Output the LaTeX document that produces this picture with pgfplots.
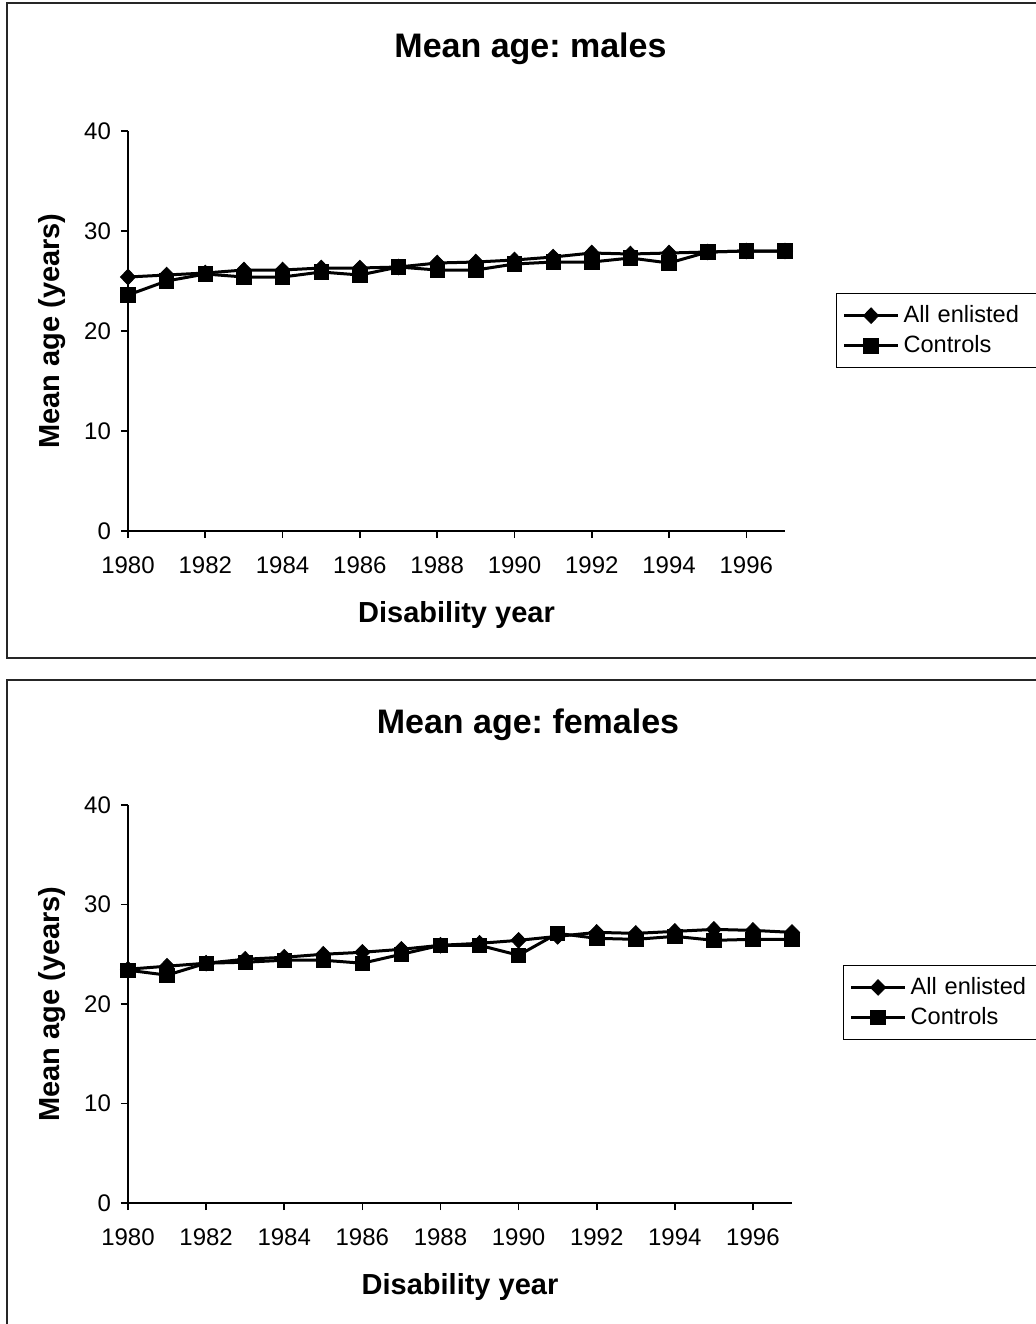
\documentclass[border=0pt]{standalone}
\usepackage{pgfplots}
\pgfplotsset{compat=1.18}
\usepackage{fontspec}
\setmainfont{Liberation Sans}
\frenchspacing

\pgfplotstableread{
year  all   ctrl
1980  25.4  23.6
1981  25.6  25.0
1982  25.8  25.7
1983  26.1  25.4
1984  26.1  25.4
1985  26.3  25.9
1986  26.3  25.6
1987  26.4  26.4
1988  26.8  26.1
1989  26.9  26.1
1990  27.1  26.7
1991  27.4  26.9
1992  27.8  26.9
1993  27.7  27.3
1994  27.8  26.8
1995  27.9  27.9
1996  28.0  28.0
1997  28.0  28.0
}\males

\pgfplotstableread{
year  all   ctrl
1980  23.5  23.4
1981  23.8  22.9
1982  24.1  24.1
1983  24.5  24.2
1984  24.7  24.4
1985  25.0  24.4
1986  25.2  24.1
1987  25.5  25.0
1988  25.9  25.9
1989  26.1  25.9
1990  26.4  24.9
1991  26.8  27.1
1992  27.2  26.6
1993  27.1  26.5
1994  27.3  26.8
1995  27.5  26.4
1996  27.4  26.5
1997  27.2  26.5
}\females

\pgfplotsset{
  agepanel/.style={
    scale only axis,
    anchor=south west,
    xmin=1980, xmax=1997,
    ymin=0, ymax=40,
    axis x line=bottom,
    axis y line=left,
    axis line style={line width=0.8pt, -},
    xtick={1980,1982,...,1996},
    ytick={0,10,...,40},
    tick align=outside,
    major tick length=3.5pt,
    every tick/.style={black, line width=0.8pt},
    /pgf/number format/1000 sep={},
    /pgf/number format/assume math mode=true,
    tick label style={font=\fontsize{12}{14}\selectfont},
    xticklabel style={yshift=-6pt},
    yticklabel style={xshift=-1.5pt},
    label style={font=\fontsize{14.5}{17}\bfseries},
    title style={font=\fontsize{17}{20}\bfseries, anchor=center},
    xlabel style={at={(axis description cs:0.5,0)}, anchor=center, yshift=-42pt},
    ylabel style={at={(axis description cs:0,0.5)}, anchor=center, yshift=38pt},
    legend cell align=left,
    legend style={draw=black, line width=0.6pt, anchor=north west,
      font=\fontsize{11.8}{13}\selectfont,
      nodes={text width=72pt, align=left, inner sep=2pt},
      row sep=1pt, inner xsep=3pt, inner ysep=4pt},
    legend image code/.code={%
      \draw[mark repeat=2, mark phase=2, #1]
        plot coordinates {(0pt,0pt) (13.5pt,0pt) (27pt,0pt)};},
    every axis plot/.append style={black, line width=1.5pt},
  },
  allmark/.style={mark=diamond*, mark size=3.9pt,
    mark options={solid, fill=black, line width=0.4pt, xscale=1.3}},
  ctrlmark/.style={mark=square*, mark size=3.6pt,
    mark options={solid, fill=black, line width=0.4pt}},
}

\begin{document}
\begin{tikzpicture}
\path[use as bounding box] (0pt,0pt) rectangle (518pt,-662pt);

% panel frames
\draw[line width=1pt, black!85] (3.5pt,-1.5pt) rectangle (530pt,-329pt);
\draw[line width=1pt, black!85] (3.5pt,-340pt) rectangle (530pt,-670pt);

% males
\begin{axis}[agepanel,
  at={(64pt,-265.5pt)},
  width=328.5pt, height=200pt,
  title={Mean age: males},
  title style={at={(axis description cs:0.5,1)}, yshift=35pt, xshift=37pt},
  xlabel={Disability year},
  ylabel={Mean age (years)},
  legend style={at={(axis description cs:1.0776,0.595)}},
]
\addplot[allmark] table[x=year, y=all] {\males};
\addlegendentry{All enlisted}
\addplot[ctrlmark] table[x=year, y=ctrl] {\males};
\addlegendentry{Controls}
\end{axis}

% females
\begin{axis}[agepanel,
  at={(64pt,-601.5pt)},
  width=332pt, height=199pt,
  title={Mean age: females},
  title style={at={(axis description cs:0.5,1)}, yshift=34pt, xshift=34pt},
  xlabel={Disability year},
  ylabel={Mean age (years)},
  legend style={at={(axis description cs:1.0768,0.5985)}},
]
\addplot[allmark] table[x=year, y=all] {\females};
\addlegendentry{All enlisted}
\addplot[ctrlmark] table[x=year, y=ctrl] {\females};
\addlegendentry{Controls}
\end{axis}
\end{tikzpicture}
\end{document}
